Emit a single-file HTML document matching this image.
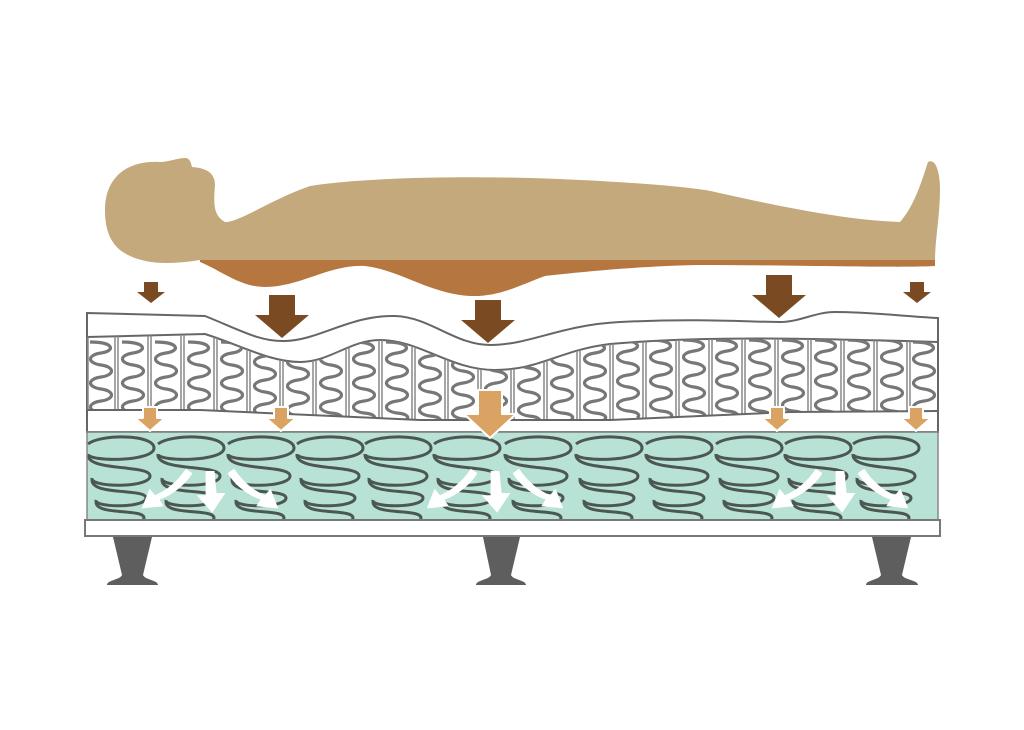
<!DOCTYPE html>
<html><head><meta charset="utf-8"><style>html,body{margin:0;padding:0;background:#fff}svg{display:block}</style></head>
<body>
<svg width="1024" height="730" viewBox="0 0 1024 730" xmlns="http://www.w3.org/2000/svg">
<defs>
  <clipPath id="pc">
    <path d="M87,337 L205,334 C240,345 270,362 300,362 C330,362 350,340 380,340 C420,340 450,370 495,370 C540,370 560,350 610,344 C700,336 800,338 938,342 L938,411 L790,412 L610,420 L420,420 L200,410 L87,410 Z"/>
  </clipPath>
  <clipPath id="gc"><rect x="87" y="433" width="851" height="87"/></clipPath>
  <g id="spr"><path d="M-11,0 C14,0 14,9 0,11 C-14,13 -14,21 0,23 C14,25 14,33 0,35 C-14,37 -14,45 0,47 C14,49 14,57 0,59 C-14,61 -14,69 0,71 C12,72 12,76 9,78" fill="none" stroke="#777" stroke-width="3.2"/></g>
  <g id="coil" fill="none" stroke="#4d5752" stroke-width="3">
    <path d="M-32,6 C-20,-4 34,-4 34,10 C34,24 -32,24 -32,16"/>
    <path d="M-32,16 C-34,34 30,26 30,38 C30,50 -30,50 -28,40"/>
    <path d="M-28,42 C-28,58 26,50 26,60 C26,70 -26,70 -24,62"/>
    <path d="M-24,64 C-24,78 24,70 24,80 C24,86 -10,86 -24,86"/>
  </g>
  <polygon id="bA" points="-13,0 13,0 13,20 27,20 0,43 -27,20 -13,20"/>
  <polygon id="sA" points="-7,0 7,0 7,10 14,10 0,21 -14,10 -7,10"/>
</defs>

<!-- body -->
<path d="M200,260 L935,260 L935,266 C900,268 800,265 700,265 C640,266 580,272 545,276 C520,285 500,297 470,296 C430,294 400,270 365,266 C330,264 300,287 265,287 C240,287 220,270 200,262 Z" fill="#b5773f"/>
<path d="M105,210 C105,175 130,160 160,162 C168,162 178,158 185,158 C190,158 191,163 192,167 C205,168 215,172 215,185 C214,200 212,215 225,222 C240,222 270,200 310,186 C360,178 450,176 530,178 C600,180 690,186 715,192 C760,202 840,220 900,222 C915,205 922,180 928,162 C935,158 940,170 940,190 C940,215 935,240 935,260 L200,260 C170,265 140,265 120,250 C108,240 105,225 105,210 Z" fill="#c4a97c"/>

<!-- mattress top layer -->
<path d="M87,313 L205,316 C240,330 260,342 285,341 C320,340 350,315 395,316 C430,317 455,345 490,345 C530,345 560,325 620,322 C700,318 750,322 780,322 C800,322 815,312 835,312 C870,312 900,316 938,318 L938,432 L87,432 Z" fill="#fff" stroke="#666" stroke-width="2"/>
<path d="M87,337 L205,334 C240,345 270,362 300,362 C330,362 350,340 380,340 C420,340 450,370 495,370 C540,370 560,350 610,344 C700,336 800,338 938,342" fill="none" stroke="#666" stroke-width="2"/>
<g clip-path="url(#pc)">
  <g stroke="#888" stroke-width="1.5">
    <path d="M88,330V430M115,330V430M118,330V430M148,330V430M151,330V430M181,330V430M184,330V430M214,330V430M217,330V430M247,330V430M250,330V430M280,330V430M283,330V430M313,330V430M316,330V430M346,330V430M349,330V430M379,330V430M382,330V430M412,330V430M415,330V430M445,330V430M448,330V430M478,330V430M481,330V430M511,330V430M514,330V430M544,330V430M547,330V430M577,330V430M580,330V430M610,330V430M613,330V430M643,330V430M646,330V430M676,330V430M679,330V430M709,330V430M712,330V430M742,330V430M745,330V430M775,330V430M778,330V430M808,330V430M811,330V430M841,330V430M844,330V430M874,330V430M877,330V430M907,330V430M910,330V430"/>
  </g>
  <use href="#spr" x="101" y="342"/><use href="#spr" x="133" y="342"/><use href="#spr" x="166" y="342"/><use href="#spr" x="199" y="342"/>
  <use href="#spr" x="232" y="342"/><use href="#spr" x="265" y="345"/><use href="#spr" x="298" y="345"/><use href="#spr" x="331" y="342"/>
  <use href="#spr" x="364" y="342"/><use href="#spr" x="397" y="342"/><use href="#spr" x="430" y="345"/><use href="#spr" x="463" y="348"/>
  <use href="#spr" x="496" y="348"/><use href="#spr" x="529" y="345"/><use href="#spr" x="562" y="342"/><use href="#spr" x="595" y="342"/>
  <use href="#spr" x="628" y="340"/><use href="#spr" x="661" y="340"/><use href="#spr" x="694" y="340"/><use href="#spr" x="727" y="340"/>
  <use href="#spr" x="760" y="340"/><use href="#spr" x="793" y="340"/><use href="#spr" x="826" y="340"/><use href="#spr" x="859" y="340"/>
  <use href="#spr" x="892" y="340"/><use href="#spr" x="924" y="342"/>
</g>
<path d="M87,410 L200,410 L420,420 L610,420 L790,412 L938,411" fill="none" stroke="#666" stroke-width="2"/>

<!-- green layer -->
<rect x="87" y="432" width="851" height="88" fill="#b8e2d5"/>
<line x1="87" y1="432" x2="938" y2="432" stroke="#888" stroke-width="1.5"/>
<g clip-path="url(#gc)">
  <use href="#coil" x="120" y="438"/><use href="#coil" x="190" y="438"/><use href="#coil" x="260" y="438"/>
  <use href="#coil" x="329" y="438"/><use href="#coil" x="397" y="438"/><use href="#coil" x="466" y="438"/>
  <use href="#coil" x="537" y="438"/><use href="#coil" x="608" y="438"/><use href="#coil" x="678" y="438"/>
  <use href="#coil" x="748" y="438"/><use href="#coil" x="817" y="438"/><use href="#coil" x="885" y="438"/>
</g>
<!-- white spreading arrows -->
<g fill="#fff">
  <g transform="translate(210,460) scale(1.1)">
    <path d="M-22,8 C-30,20 -40,28 -50,32 L-55,26 L-62,44 L-42,42 L-46,36 C-34,32 -22,22 -16,12 Z"/>
    <path d="M-4,10 L4,10 L6,30 L14,30 L2,48 L-12,32 L-4,32 Z"/>
    <path d="M22,8 C30,20 40,28 50,32 L55,26 L62,44 L42,42 L46,36 C34,32 22,22 16,12 Z"/>
  </g>
  <g transform="translate(495,460) scale(1.1)">
    <path d="M-22,8 C-30,20 -40,28 -50,32 L-55,26 L-62,44 L-42,42 L-46,36 C-34,32 -22,22 -16,12 Z"/>
    <path d="M-4,10 L4,10 L6,30 L14,30 L2,48 L-12,32 L-4,32 Z"/>
    <path d="M22,8 C30,20 40,28 50,32 L55,26 L62,44 L42,42 L46,36 C34,32 22,22 16,12 Z"/>
  </g>
  <g transform="translate(840,460) scale(1.1)">
    <path d="M-22,8 C-30,20 -40,28 -50,32 L-55,26 L-62,44 L-42,42 L-46,36 C-34,32 -22,22 -16,12 Z"/>
    <path d="M-4,10 L4,10 L6,30 L14,30 L2,48 L-12,32 L-4,32 Z"/>
    <path d="M22,8 C30,20 40,28 50,32 L55,26 L62,44 L42,42 L46,36 C34,32 22,22 16,12 Z"/>
  </g>
</g>
<rect x="87" y="432" width="851" height="88" fill="none" stroke="#888" stroke-width="1.5"/>

<!-- base board -->
<rect x="85" y="520" width="855" height="16" fill="#fff" stroke="#777" stroke-width="2"/>
<!-- legs -->
<g fill="#5e5e5e">
  <path d="M113,537 L152,537 L143,575 C145,580 158,580 158,585 L107,585 C107,580 120,580 122,575 Z"/>
  <path d="M483,537 L520,537 L511,575 C513,580 526,580 526,585 L476,585 C476,580 489,580 491,575 Z"/>
  <path d="M872,537 L911,537 L902,575 C904,580 918,580 918,585 L866,585 C866,580 879,580 881,575 Z"/>
</g>

<!-- brown arrows -->
<g fill="#7a4a23">
  <use href="#sA" x="151" y="282"/>
  <use href="#bA" x="282" y="295"/>
  <use href="#bA" x="488" y="300"/>
  <use href="#bA" x="779" y="275"/>
  <use href="#sA" x="917" y="282"/>
</g>
<!-- orange arrows -->
<g fill="#dba363" stroke="#fff" stroke-width="2" stroke-linejoin="round">
  <polygon points="143,407 157,407 157,418 165,418 150,431 135,418 143,418"/>
  <polygon points="274,407 288,407 288,418 296,418 281,431 266,418 274,418"/>
  <polygon points="478,390 502,390 502,414 516,414 490,438 464,414 478,414"/>
  <polygon points="770,407 784,407 784,418 792,418 777,431 762,418 770,418"/>
  <polygon points="909,407 923,407 923,418 931,418 916,431 901,418 909,418"/>
</g>
</svg>
</body></html>
